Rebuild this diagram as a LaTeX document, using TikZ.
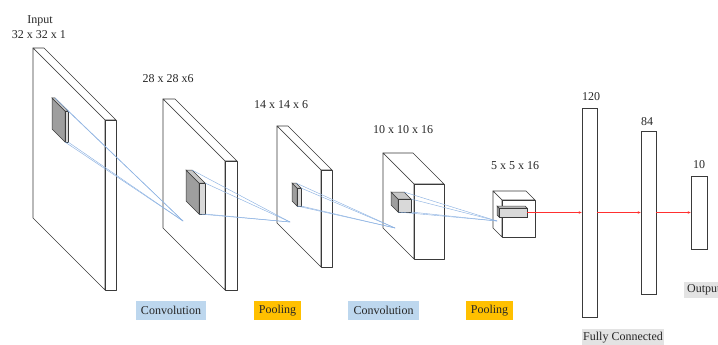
\documentclass[tikz,border=0pt]{standalone}
\usepackage{fontspec}
\setmainfont{Liberation Serif}
\usetikzlibrary{arrows.meta}
\definecolor{convblue}{HTML}{BDD7EE}
\definecolor{poolorange}{HTML}{FFC000}
\definecolor{tagGray}{HTML}{E3E3E3}
\definecolor{rayblue}{HTML}{8CB2E2}
\definecolor{edgecol}{HTML}{3A3A3A}
\definecolor{arrowred}{HTML}{FF3030}
\tikzset{
  platestyle/.style={draw=edgecol,line width=0.6pt,fill=white,line join=round},
  kside/.style={draw=edgecol,line width=0.5pt,fill=black!38},
  ktop/.style={draw=edgecol,line width=0.5pt,fill=black!22},
  kfront/.style={draw=edgecol,line width=0.5pt,fill=black!15},
  ray/.style={draw=rayblue,line width=0.45pt},
  redarrow/.style={draw=arrowred,line width=0.5pt,-{Stealth[length=3pt,width=2.5pt]}},
  fcbox/.style={draw=edgecol,line width=0.6pt,fill=white,inner sep=0pt,minimum width=15pt},
  lbl/.style={font=\fontsize{12}{14}\selectfont,text=black!85,inner sep=0pt},
  tagbox/.style={font=\fontsize{12}{14}\selectfont,text=black!85,inner sep=0pt,minimum height=19pt}
}
% slab: x1 y1 x2 y2 (front rect) d (depth offset up-left)
\newcommand{\myslab}[5]{%
  \filldraw[platestyle] (#1,#2) -- ({#1-#5},{#2-#5}) -- ({#3-#5},{#2-#5}) -- (#3,#2) -- cycle;
  \filldraw[platestyle] (#1,#2) -- ({#1-#5},{#2-#5}) -- ({#1-#5},{#4-#5}) -- (#1,#4) -- cycle;
  \filldraw[platestyle] (#1,#2) rectangle (#3,#4);
}
% kernel: x1 y1 x2 y2 d name
\newcommand{\mykernel}[6]{%
  \filldraw[kside] (#1,#2) -- ({#1-#5},{#2-#5}) -- ({#1-#5},{#4-#5}) -- (#1,#4) -- cycle;
  \filldraw[ktop] (#1,#2) -- ({#1-#5},{#2-#5}) -- ({#3-#5},{#2-#5}) -- (#3,#2) -- cycle;
  \filldraw[kfront] (#1,#2) rectangle (#3,#4);
  \coordinate (#6-btr) at ({#3-#5},{#2-#5});
  \coordinate (#6-ftr) at (#3,#2);
  \coordinate (#6-fbr) at (#3,#4);
  \coordinate (#6-fbl) at (#1,#4);
  \coordinate (#6-mr) at ({#3},{(#2+#4)/2});
}
\begin{document}
\begin{tikzpicture}[x=1pt,y=-1pt]
\useasboundingbox (0,0) rectangle (718,345);
\clip (0,0) rectangle (718,345);

% plates
\myslab{105}{120}{116}{290}{72}
\mykernel{65}{111}{68}{142}{13}{k1}
\myslab{225}{161}{237}{290}{62}
\mykernel{199}{183}{205}{214}{13}{k2}
\myslab{321}{170}{332}{267}{44}
\mykernel{297}{188}{301}{206}{5}{k3}
\myslab{414}{184}{444}{259}{31}
\mykernel{398}{199}{411}{212}{7}{k4}
\myslab{502}{200}{535}{237}{9}
\mykernel{499}{208}{527}{217}{2}{k5}

% target points
\coordinate (t1) at (183,221);
\coordinate (t2) at (290,222);
\coordinate (t3) at (395,228);
\coordinate (t4) at (497,221);

% rays
\foreach \k/\t in {k1/t1,k2/t2,k3/t3,k4/t4}{
  \draw[ray] (\k-btr) -- (\t);
  \draw[ray] (\k-ftr) -- (\t);
  \draw[ray] (\k-fbr) -- (\t);
  \draw[ray] (\k-fbl) -- (\t);
}

% fully connected
\node[fcbox,minimum height=209pt] (fc1) at (589.5,212.5) {};
\node[fcbox,minimum height=163pt] (fc2) at (648.5,212.5) {};
\node[fcbox,minimum width=16pt,minimum height=73pt] (out) at (699,212.5) {};

\draw[redarrow] (k5-mr) -- (fc1.west);
\draw[redarrow] (fc1.east) -- (fc2.west);
\draw[redarrow] (fc2.east) -- (out.west);

% labels
\node[lbl] (linput) at (40,21) {Input};
\node[lbl] (lsize1) at (39,35) {32 x 32 x 1};
\node[lbl] (lsize2) at (168,79) {28 x 28 x6};
\node[lbl] (lsize3) at (281,105) {14 x 14 x 6};
\node[lbl] (lsize4) at (403,130) {10 x 10 x 16};
\node[lbl] (lsize5) at (515,166) {5 x 5 x 16};
\node[lbl] (l120) at (591,97) {120};
\node[lbl] (l84) at (647,122) {84};
\node[lbl] (l10) at (699,165) {10};

% tags
\node[tagbox,fill=convblue,minimum width=70pt] (conv1) at (171,310.5) {Convolution};
\node[tagbox,fill=poolorange,minimum width=47pt] (pool1) at (277.5,310.5) {Pooling};
\node[tagbox,fill=convblue,minimum width=71pt] (conv2) at (383.5,310.5) {Convolution};
\node[tagbox,fill=poolorange,minimum width=47pt] (pool2) at (489.5,310.5) {Pooling};
\node[tagbox,fill=tagGray,minimum height=16pt,anchor=west,inner xsep=3pt] (outtag) at (684,289.5) {Output};
\node[tagbox,fill=tagGray,minimum width=82pt,minimum height=18pt] (fctag) at (623,338) {Fully Connected};
\end{tikzpicture}
\end{document}
